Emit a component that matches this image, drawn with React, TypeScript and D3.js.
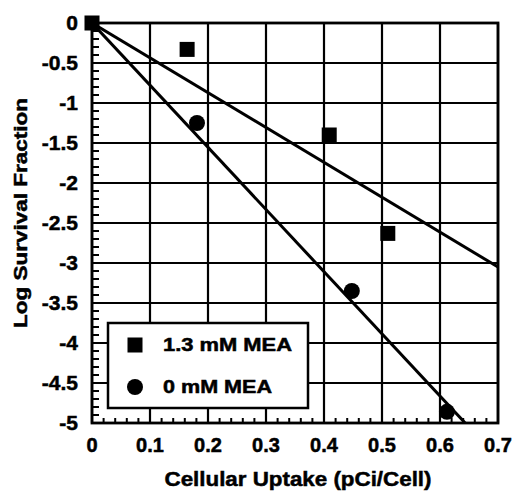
import React from "react";
import * as d3 from "d3";

const xTicks = [0, 0.1, 0.2, 0.3, 0.4, 0.5, 0.6, 0.7];
const yTicks = [0, -0.5, -1, -1.5, -2, -2.5, -3, -3.5, -4, -4.5, -5];
const meaX = [0, 0.164, 0.409, 0.51];
const meaY = [0, -0.33, -1.4, -2.63];
const ctrlX = [0.181, 0.448, 0.612];
const ctrlY = [-1.25, -3.35, -4.86];
const fitMeaX = [0, 0.7];
const fitMeaY = [0, -3.05];
const fitCtrlX = [0, 0.7];
const fitCtrlY = [0, -5.44];
const seriesNames = ["1.3 mM MEA", "0 mM MEA"];

const L = 92, R = 498, T = 23, B = 423;
const font = "Arial, 'Liberation Sans', Helvetica, sans-serif";

export default function App() {
  const x = d3.scaleLinear().domain([0, 0.7]).range([L, R]);
  const y = d3.scaleLinear().domain([-5, 0]).range([B, T]);
  const line = d3.line<[number, number]>().x((d) => x(d[0])).y((d) => y(d[1]));
  const minorX = d3.range(0, 0.7001, 0.02).filter((v) => Math.abs(v * 10 - Math.round(v * 10)) > 1e-6);
  const minorY = d3.range(0, -5.0001, -0.1).filter((v) => Math.abs(v * 2 - Math.round(v * 2)) > 1e-6);
  const sq = 15;
  const txt = { fontFamily: font, fontWeight: "bold" as const, stroke: "#000", strokeWidth: 0.5 };
  return (
    <svg width={518} height={493} style={{ position: "absolute", left: 0, top: 0 }}>
      <rect width={518} height={493} fill="#fff" />
      <defs>
        <clipPath id="plot">
          <rect x={L} y={T} width={R - L} height={B - T} />
        </clipPath>
      </defs>
      {xTicks.map((t) => (
        <line key={"gx" + t} x1={x(t)} x2={x(t)} y1={T} y2={B} stroke="#000" strokeWidth={2.2} />
      ))}
      {yTicks.map((t) => (
        <line key={"gy" + t} x1={L} x2={R} y1={y(t)} y2={y(t)} stroke="#000" strokeWidth={2.2} />
      ))}
      {minorX.map((t) => (
        <line key={"mx" + t} x1={x(t)} x2={x(t)} y1={B} y2={B - 5} stroke="#000" strokeWidth={2} />
      ))}
      {minorY.map((t) => (
        <line key={"my" + t} x1={L} x2={L + 7} y1={y(t)} y2={y(t)} stroke="#000" strokeWidth={2} />
      ))}
      <rect x={L} y={T} width={R - L} height={B - T} fill="none" stroke="#000" strokeWidth={2.8} />
      <g clipPath="url(#plot)">
        <path d={line(fitMeaX.map((v, i) => [v, fitMeaY[i]]) as any) || ""} fill="none" stroke="#000" strokeWidth={3} />
        <path d={line(fitCtrlX.map((v, i) => [v, fitCtrlY[i]]) as any) || ""} fill="none" stroke="#000" strokeWidth={3} />
      </g>
      {meaX.map((v, i) => (
        <rect key={"s" + i} x={x(v) - sq / 2} y={y(meaY[i]) - sq / 2} width={sq} height={sq} fill="#000" />
      ))}
      {ctrlX.map((v, i) => (
        <circle key={"c" + i} cx={x(v)} cy={y(ctrlY[i])} r={8} fill="#000" />
      ))}
      <rect x={108} y={323} width={200} height={85} fill="#fff" stroke="#000" strokeWidth={2.5} />
      <rect x={135 - 7.5} y={345 - 7.5} width={15} height={15} fill="#000" />
      <circle cx={135} cy={387} r={8} fill="#000" />
      <text x={163} y={351} {...txt} fontSize={18} textLength={129} lengthAdjust="spacingAndGlyphs">{seriesNames[0]}</text>
      <text x={163} y={393} {...txt} fontSize={18} textLength={109} lengthAdjust="spacingAndGlyphs">{seriesNames[1]}</text>
      {xTicks.map((t) => (
        <text key={"xl" + t} x={x(t)} y={452} textAnchor="middle" {...txt} fontSize={20}>
          {t === 0 ? "0" : String(t)}
        </text>
      ))}
      {yTicks.map((t) => (
        <text key={"yl" + t} x={78} y={y(t) + 7} textAnchor="end" {...txt} fontSize={21}>
          {t === 0 ? "0" : String(t)}
        </text>
      ))}
      <text x={298} y={486} textAnchor="middle" {...txt} fontSize={21} textLength={267} lengthAdjust="spacingAndGlyphs">
        Cellular Uptake (pCi/Cell)
      </text>
      <text
        transform={`translate(27, ${213}) rotate(-90)`}
        textAnchor="middle"
        {...txt}
        fontSize={19}
        textLength={230}
        lengthAdjust="spacingAndGlyphs"
      >
        Log Survival Fraction
      </text>
    </svg>
  );
}
